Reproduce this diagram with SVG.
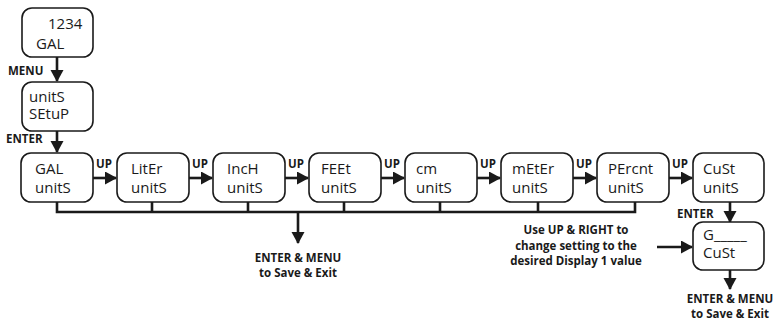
<svg xmlns="http://www.w3.org/2000/svg" width="777" height="323" viewBox="0 0 777 323">
<defs>
<marker id="ah" markerUnits="userSpaceOnUse" markerWidth="14" markerHeight="14" refX="11" refY="6.5" orient="auto">
<path d="M0,0 L12,6.5 L0,13 Z" fill="#1a1a1a"/>
</marker>
<style>
.box{fill:#fff;stroke:#1a1a1a;stroke-width:1.6}
.t{font-family:"Open Sans","Noto Sans",sans-serif;font-size:15px;fill:#1a1a1a}
.b{font-family:"Open Sans","Noto Sans",sans-serif;font-size:11.5px;font-weight:bold;fill:#1a1a1a}
.c{fill:none;stroke:#1a1a1a;stroke-width:2.6}
</style>
</defs>
<rect width="777" height="323" fill="#fff"/>
<g id="connectors">
<line class="c" x1="57" y1="57" x2="57" y2="81" marker-end="url(#ah)"/>
<line class="c" x1="57" y1="131" x2="57" y2="152" marker-end="url(#ah)"/>
<line class="c" x1="93" y1="178" x2="116" y2="178" marker-end="url(#ah)"/>
<line class="c" x1="189" y1="178" x2="212" y2="178" marker-end="url(#ah)"/>
<line class="c" x1="285" y1="178" x2="308" y2="178" marker-end="url(#ah)"/>
<line class="c" x1="381" y1="178" x2="404" y2="178" marker-end="url(#ah)"/>
<line class="c" x1="477" y1="178" x2="500" y2="178" marker-end="url(#ah)"/>
<line class="c" x1="573" y1="178" x2="596" y2="178" marker-end="url(#ah)"/>
<line class="c" x1="669" y1="178" x2="692" y2="178" marker-end="url(#ah)"/>
<polyline class="c" points="57,202 57,212 635,212 635,202"/>
<line class="c" x1="152" y1="202" x2="152" y2="212"/>
<line class="c" x1="248" y1="202" x2="248" y2="212"/>
<line class="c" x1="344" y1="202" x2="344" y2="212"/>
<line class="c" x1="440" y1="202" x2="440" y2="212"/>
<line class="c" x1="538" y1="202" x2="538" y2="212"/>
<line class="c" x1="298" y1="212" x2="298" y2="243" marker-end="url(#ah)"/>
<line class="c" x1="730" y1="202" x2="730" y2="222" marker-end="url(#ah)"/>
<line class="c" x1="730" y1="270" x2="730" y2="289" marker-end="url(#ah)"/>
<line class="c" x1="657" y1="247" x2="692" y2="247" marker-end="url(#ah)"/>
<text class="b" x="8" y="75">MENU</text>
<text class="b" x="6" y="143">ENTER</text>
<text class="b" x="96" y="168">UP</text>
<text class="b" x="192" y="168">UP</text>
<text class="b" x="288" y="168">UP</text>
<text class="b" x="384" y="168">UP</text>
<text class="b" x="480" y="168">UP</text>
<text class="b" x="576" y="168">UP</text>
<text class="b" x="672" y="168">UP</text>
<text class="b" x="677" y="218">ENTER</text>
<text class="b" x="298" y="262" text-anchor="middle">ENTER &amp; MENU</text>
<text class="b" x="298" y="277" text-anchor="middle">to Save &amp; Exit</text>
<text class="b" x="730" y="303" text-anchor="middle">ENTER &amp; MENU</text>
<text class="b" x="730" y="318" text-anchor="middle">to Save &amp; Exit</text>
<text class="b" x="576" y="234" text-anchor="middle">Use UP &amp; RIGHT to</text>
<text class="b" x="576" y="250" text-anchor="middle">change setting to the</text>
<text class="b" x="576" y="265" text-anchor="middle">desired Display 1 value</text>
</g>
<g id="n-display"><rect class="box" x="22" y="8" width="71" height="49" rx="10"/><text class="t" x="48" y="29">1234</text><text class="t" x="36" y="49">GAL</text></g>
<g id="n-setup"><rect class="box" x="22" y="82" width="71" height="49" rx="10"/><text class="t" x="29" y="102">unitS</text><text class="t" x="29" y="119">SEtuP</text></g>
<g id="n-gal"><rect class="box" x="21" y="153" width="72" height="49" rx="10"/><text class="t" x="35" y="174">GAL</text><text class="t" x="35" y="193">unitS</text></g>
<g id="n-liter"><rect class="box" x="117" y="153" width="72" height="49" rx="10"/><text class="t" x="131" y="174">LitEr</text><text class="t" x="131" y="193">unitS</text></g>
<g id="n-inch"><rect class="box" x="213" y="153" width="72" height="49" rx="10"/><text class="t" x="227" y="174">IncH</text><text class="t" x="227" y="193">unitS</text></g>
<g id="n-feet"><rect class="box" x="309" y="153" width="72" height="49" rx="10"/><text class="t" x="321" y="174">FEEt</text><text class="t" x="321" y="193">unitS</text></g>
<g id="n-cm"><rect class="box" x="405" y="153" width="72" height="49" rx="10"/><text class="t" x="416" y="174">cm</text><text class="t" x="416" y="193">unitS</text></g>
<g id="n-meter"><rect class="box" x="501" y="153" width="72" height="49" rx="10"/><text class="t" x="512" y="174">mEtEr</text><text class="t" x="512" y="193">unitS</text></g>
<g id="n-percnt"><rect class="box" x="597" y="153" width="72" height="49" rx="10"/><text class="t" x="608" y="174">PErcnt</text><text class="t" x="608" y="193">unitS</text></g>
<g id="n-cust"><rect class="box" x="693" y="153" width="71" height="49" rx="10"/><text class="t" x="703" y="174">CuSt</text><text class="t" x="703" y="193">unitS</text></g>
<g id="n-g"><rect class="box" x="693" y="222" width="71" height="48" rx="10"/><text class="t" x="703" y="240">G_____</text><text class="t" x="703" y="258">CuSt</text></g>
</svg>
